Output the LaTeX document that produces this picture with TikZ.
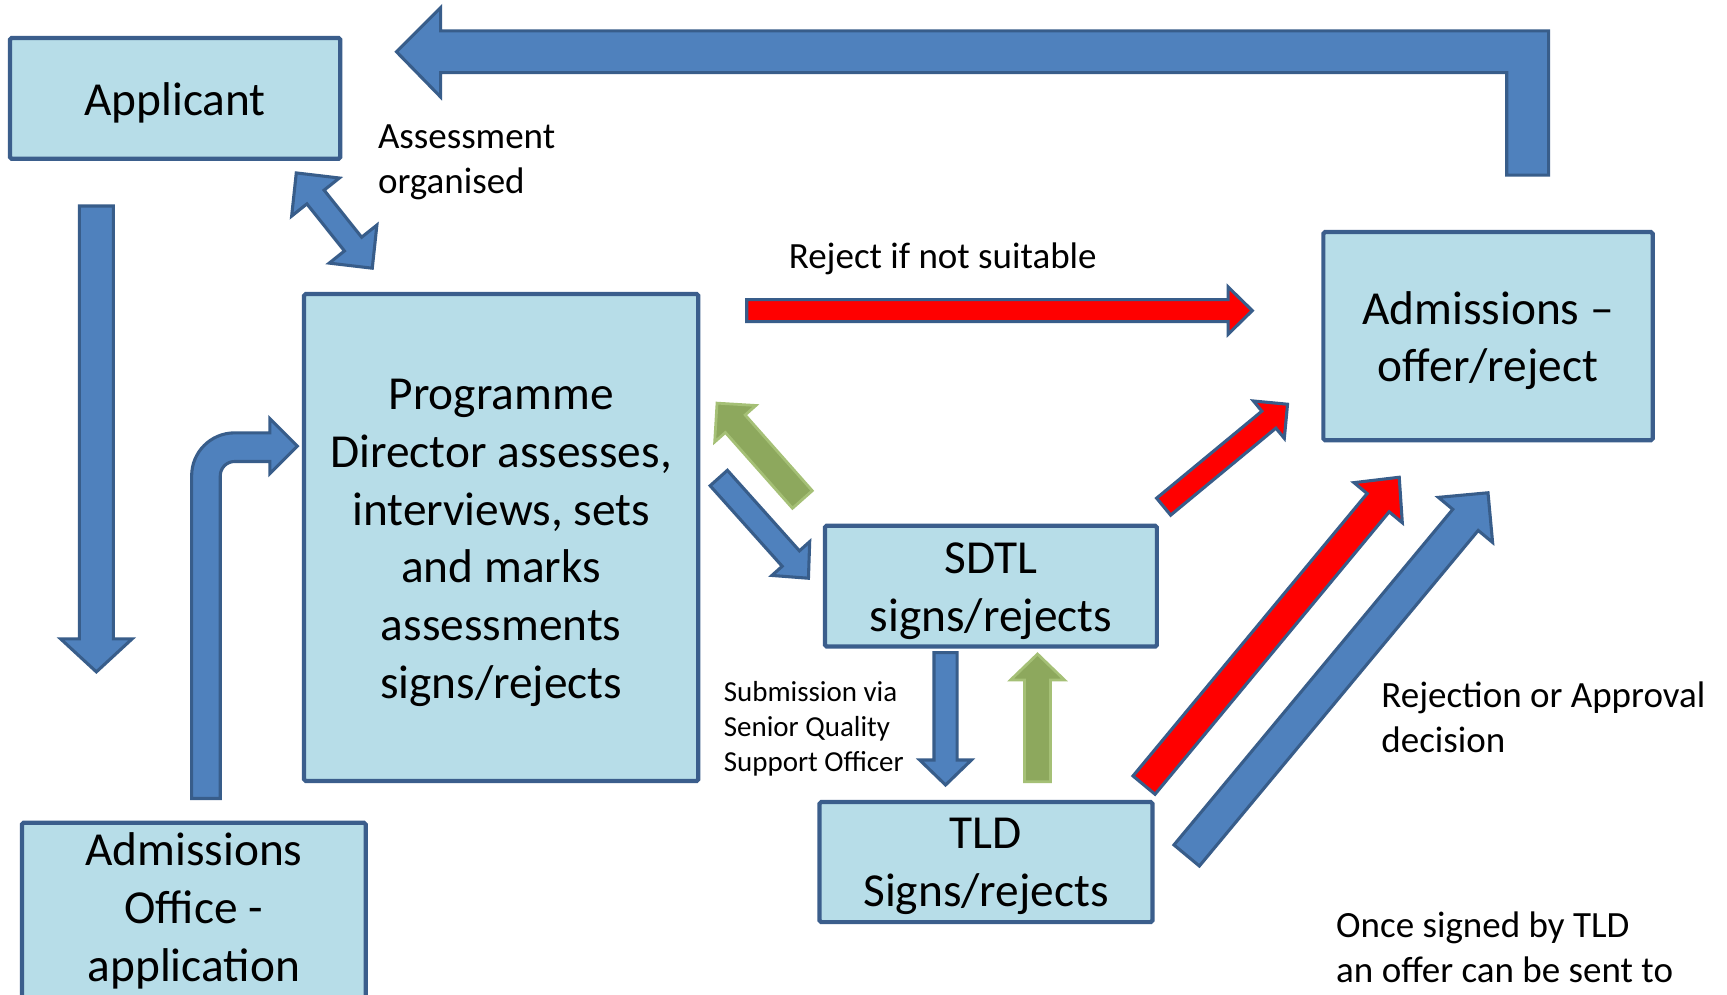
\documentclass[tikz,border=0pt]{standalone}
\usepackage{fontspec}
\setmainfont{Carlito}
\usetikzlibrary{calc}
\definecolor{boxfill}{RGB}{183,221,232}
\definecolor{boxline}{RGB}{59,94,140}
\definecolor{arrblue}{RGB}{79,129,189}
\definecolor{arrline}{RGB}{56,93,138}
\definecolor{arrred}{RGB}{255,0,0}
\definecolor{arrgreen}{RGB}{141,168,93}
\definecolor{greenedge}{RGB}{165,192,118}
% #1 style, #2 tail, #3 tip, #4 shaft half width, #5 head half width, #6 head length
\newcommand\blockarrow[6]{%
  \coordinate (bah) at ($(#3)!#6!(#2)$);
  \draw[#1] ($(#2)!#4!90:(#3)$) -- ($(bah)!#4!90:(#3)$) -- ($(bah)!#5!90:(#3)$) -- (#3)
    -- ($(bah)!#5!-90:(#3)$) -- ($(bah)!#4!-90:(#3)$) -- ($(#2)!#4!-90:(#3)$) -- cycle;}
\newcommand\dblarrow[6]{%
  \coordinate (dha) at ($(#2)!#6!(#3)$);
  \coordinate (dhb) at ($(#3)!#6!(#2)$);
  \draw[#1] (#2) -- ($(dha)!#5!90:(#3)$) -- ($(dha)!#4!90:(#3)$) -- ($(dhb)!#4!-90:(#2)$)
    -- ($(dhb)!#5!-90:(#2)$) -- (#3) -- ($(dhb)!#5!90:(#2)$) -- ($(dhb)!#4!90:(#2)$)
    -- ($(dha)!#4!-90:(#3)$) -- ($(dha)!#5!-90:(#3)$) -- cycle;}
\begin{document}
\begin{tikzpicture}[x=1pt,y=-1pt,
  box/.style={draw=boxline, fill=boxfill, line width=3.8pt, rounded corners=1.5pt, inner sep=0pt},
  boxtext/.style={inner sep=0pt, align=center, font=\fontsize{43}{52.4}\selectfont},
  lbl/.style={inner sep=0pt, anchor=base west, font=\fontsize{33.6}{41}\selectfont},
  slbl/.style={inner sep=0pt, anchor=base west, font=\fontsize{26.3}{32}\selectfont},
  bluearr/.style={fill=arrblue, draw=arrline, line width=2.8pt},
  redarr/.style={fill=arrred, draw=arrline, line width=2.8pt},
  greenarr/.style={fill=arrgreen, draw=greenedge, line width=2.5pt}]
\useasboundingbox (0,0) rectangle (1568,903);
\clip (0,0) rectangle (1568,903);
\fill[white] (0,0) rectangle (1568,903);

% boxes
\node[box, minimum width=300pt, minimum height=109.5pt] (app) at (159,89.3) {};
\node[boxtext] (appt) at ([yshift=-4pt]app.center) {Applicant};
\node[box, minimum width=358pt, minimum height=442pt] (pd) at (455,488) {};
\node[boxtext] (pdt) at ([yshift=-5pt]pd.center)
  {Programme\\Director assesses,\\interviews, sets\\and marks\\assessments\\signs/rejects};
\node[box, minimum width=312pt, minimum height=159pt] (ao) at (176,826.5) {};
\node[boxtext] (aot) at ([yshift=-0.5pt]ao.center) {Admissions\\Office -\\application};
\node[box, minimum width=299pt, minimum height=189pt] (adm) at (1351,305.2) {};
\node[boxtext] (admt) at ([yshift=-4pt]adm.center) {Admissions –\\offer/reject};
\node[box, minimum width=301.3pt, minimum height=109.7pt] (sdtl) at (899.7,532.2) {};
\node[boxtext] (sdtlt) at ([yshift=-4.5pt]sdtl.center) {SDTL\\signs/rejects};
\node[box, minimum width=302.3pt, minimum height=109pt] (tld) at (895.2,782.7) {};
\node[boxtext] (tldt) at ([yshift=-4pt]tld.center) {TLD\\Signs/rejects};

% top bent arrow (Admissions -> Applicant)
\draw[bluearr] (360,47) -- (400,7) -- (400,28) -- (1406,28) -- (1406,159) -- (1368,159)
  -- (1368,66) -- (400,66) -- (400,88) -- cycle;

% Applicant down arrow
\coordinate (a1s) at (87.5,187); \coordinate (a1e) at (87.5,610);
\blockarrow{bluearr}{a1s}{a1e}{15.5pt}{32.5pt}{30pt}

% Admissions office -> PD bent arrow
\draw[bluearr] (174,725) -- (174,432) to[out=90,in=180] (213,393) -- (245,393) -- (245,380)
  -- (270,405) -- (245,430) -- (245,419) -- (213,419) to[out=180,in=90] (200,432) -- (200,725) -- cycle;

% double arrow Applicant <-> PD
\coordinate (d1) at (269,157); \coordinate (d2) at (338,243.5);
\dblarrow{bluearr}{d1}{d2}{10pt}{27.7pt}{28pt}

% red reject arrow
\coordinate (r1s) at (678,282); \coordinate (r1e) at (1137,282);
\blockarrow{redarr}{r1s}{r1e}{10pt}{21.5pt}{22pt}

% PD -> SDTL
\coordinate (b2s) at (652.6,434); \coordinate (b2e) at (734,525);
\blockarrow{bluearr}{b2s}{b2e}{10.5pt}{23pt}{24pt}

% SDTL -> PD green
\coordinate (g1s) at (728.5,453.5); \coordinate (g1e) at (651,366);
\blockarrow{greenarr}{g1s}{g1e}{12pt}{25pt}{25pt}

% SDTL -> Admissions red
\coordinate (r2s) at (1056.5,460); \coordinate (r2e) at (1169,367);
\blockarrow{redarr}{r2s}{r2e}{10pt}{22pt}{22pt}

% TLD -> Admissions red
\coordinate (r3s) at (1038.7,712.8); \coordinate (r3e) at (1270.4,433.3);
\blockarrow{redarr}{r3s}{r3e}{13pt}{28.5pt}{30pt}

% TLD -> Admissions blue
\coordinate (b3s) at (1077.4,776.7); \coordinate (b3e) at (1351,447.4);
\blockarrow{bluearr}{b3s}{b3e}{15pt}{32pt}{32pt}

% SDTL -> TLD blue
\coordinate (b4s) at (858.5,592.6); \coordinate (b4e) at (858.5,712.7);
\blockarrow{bluearr}{b4s}{b4e}{10.5pt}{23.5pt}{22.7pt}

% TLD -> SDTL green
\coordinate (g2s) at (942,709.7); \coordinate (g2e) at (942,593.8);
\blockarrow{greenarr}{g2s}{g2e}{11.8pt}{24.5pt}{23.6pt}

% labels
\node[lbl] (l1a) at (343,134.5) {Assessment};
\node[lbl] (l1b) at (343,175.5) {organised};
\node[lbl] (l2) at (716,243.5) {Reject if not suitable};
\node[slbl] (l3a) at (657,636.5) {Submission via};
\node[slbl] (l3b) at (657,668.5) {Senior Quality};
\node[slbl] (l3c) at (657,700.5) {Support Officer};
\node[lbl] (l4a) at (1254,642.5) {Rejection or Approval};
\node[lbl] (l4b) at (1254,683.5) {decision};
\node[lbl] (l5a) at (1213,851) {Once signed by TLD};
\node[lbl] (l5b) at (1213,892) {an offer can be sent to};
\end{tikzpicture}
\end{document}
